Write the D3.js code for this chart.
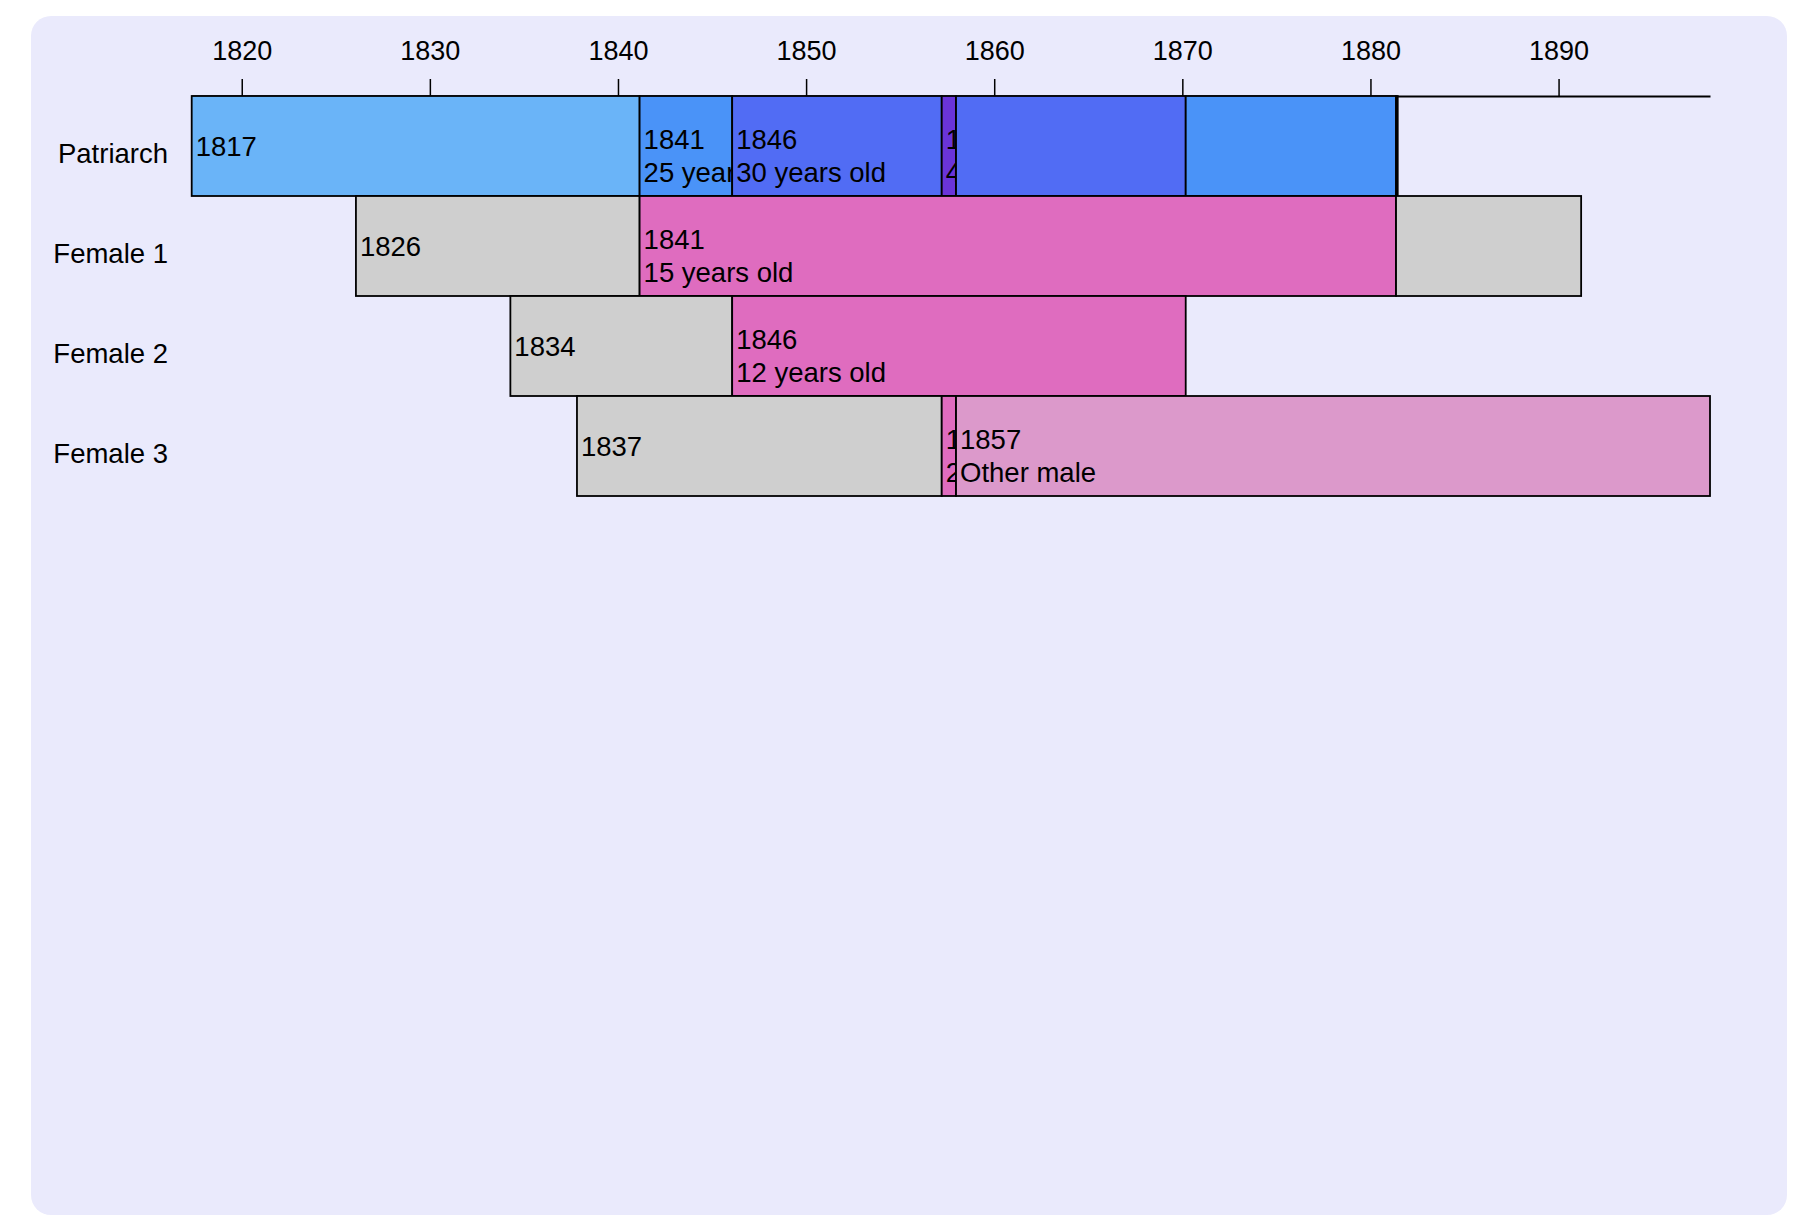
<!DOCTYPE html>
<html>
<head>
  <title>Family Timeline</title>
  <script src="https://cdn.jsdelivr.net/npm/d3@7"></script>
  <style>
    body { margin: 0; background: #ffffff; }
    svg text { font-family: "Liberation Sans", Arial, Helvetica, sans-serif; fill: #000; }
  </style>
</head>
<body>
  <div id="myChart"></div>
  <script>
    // rows of the timeline
    const people = ["Patriarch", "Female 1", "Female 2", "Female 3"];

    // one entry per segment (fractional years)
    const segPerson = ["Patriarch", "Patriarch", "Patriarch", "Patriarch", "Patriarch", "Patriarch", "Patriarch",
                       "Female 1", "Female 1", "Female 1",
                       "Female 2", "Female 2",
                       "Female 3", "Female 3", "Female 3"];
    const segStart = [1817.34, 1841.15, 1846.07, 1857.21, 1857.97, 1870.18, 1881.36,
                      1826.07, 1841.15, 1881.36,
                      1834.28, 1846.07,
                      1837.82, 1857.21, 1857.97];
    const segEnd = [1841.15, 1846.07, 1857.21, 1857.97, 1870.18, 1881.36, 1881.45,
                    1841.15, 1881.36, 1891.2,
                    1846.07, 1870.18,
                    1857.21, 1857.97, 1898.05];
    const segKind = ["wives0", "wives1", "wives2", "wives3", "wives2", "wives1", "wives0",
                     "unmarried", "married", "unmarried",
                     "unmarried", "married",
                     "unmarried", "married", "other"];
    const segYear = ["1817", "1841", "1846", "1857", "", "", "",
                     "1826", "1841", "",
                     "1834", "1846",
                     "1837", "1857", "1857"];
    const segNote = ["", "25 years old", "30 years old", "40 years old", "", "", "",
                     "", "15 years old", "",
                     "", "12 years old",
                     "", "20 years old", "Other male"];

    const tickYears = [1820, 1830, 1840, 1850, 1860, 1870, 1880, 1890];

    const segments = segPerson.map((p, i) => ({
      person: p, start: segStart[i], end: segEnd[i], kind: segKind[i],
      year: segYear[i], note: segNote[i]
    }));

    const width = 1806;
    const height = 1230;
    const margins = { top: 96, left: 191.7, right: 96 };
    const rowHeight = 100;

    const color = d3.scaleOrdinal()
        .domain(["wives0", "wives1", "wives2", "wives3", "unmarried", "married", "other"])
        .range(["#6ab4f8", "#4a93f8", "#516cf4", "#6a34d9", "#cfcfcf", "#df6cbf", "#dc99cb"]);

    const x = d3.scaleLinear()
        .domain([d3.min(segments, d => d.start), d3.max(segments, d => d.end)])
        .range([margins.left, width - margins.right]);

    const y = d3.scaleBand()
        .domain(people)
        .range([margins.top, margins.top + rowHeight * people.length])
        .padding(0);

    const svg = d3.select("#myChart").append("svg")
        .attr("width", width)
        .attr("height", height);

    // lavender panel
    svg.append("rect")
        .attr("x", 31)
        .attr("y", 16)
        .attr("width", 1756)
        .attr("height", 1199)
        .attr("rx", 20)
        .attr("fill", "#eaeafc");

    // axis on top
    const axis = svg.append("g")
        .attr("transform", `translate(0,${margins.top})`)
        .call(d3.axisTop(x).tickValues(tickYears).tickFormat(d3.format("d"))
              .tickSize(17).tickSizeOuter(0).tickPadding(19));
    axis.select(".domain").attr("stroke-width", 2);
    axis.selectAll(".tick line").attr("stroke-width", 1.5);
    axis.selectAll(".tick text")
        .attr("font-size", 27)
        .attr("font-family", "Liberation Sans, Arial, sans-serif")
        .attr("dy", 0);

    // row labels
    svg.selectAll(".row-label")
        .data(people)
        .enter().append("text")
        .attr("class", "row-label")
        .attr("x", 168)
        .attr("y", d => y(d) + 67)
        .attr("text-anchor", "end")
        .attr("font-size", 27.5)
        .text(d => d);

    // clip paths so labels stay inside their segment
    const defs = svg.append("defs");
    defs.selectAll("clipPath")
        .data(segments)
        .enter().append("clipPath")
        .attr("id", (d, i) => "clip" + i)
        .append("rect")
        .attr("x", d => x(d.start))
        .attr("y", d => y(d.person))
        .attr("width", d => x(d.end) - x(d.start))
        .attr("height", y.bandwidth());

    const seg = svg.selectAll(".seg")
        .data(segments)
        .enter().append("g")
        .attr("class", "seg");

    seg.append("rect")
        .attr("x", d => x(d.start))
        .attr("y", d => y(d.person))
        .attr("width", d => x(d.end) - x(d.start))
        .attr("height", y.bandwidth())
        .attr("fill", d => color(d.kind))
        .attr("stroke", "#000")
        .attr("stroke-width", 1.8);

    const label = seg.filter(d => d.year !== "")
        .append("text")
        .attr("clip-path", d => `url(#clip${segments.indexOf(d)})`)
        .attr("font-size", 27.5);

    label.append("tspan")
        .attr("x", d => x(d.start) + 4)
        .attr("y", d => y(d.person) + (d.note ? 52.5 : 60))
        .text(d => d.year);

    label.filter(d => d.note !== "")
        .append("tspan")
        .attr("x", d => x(d.start) + 4)
        .attr("y", d => y(d.person) + 86)
        .text(d => d.note);
  </script>
</body>
</html>
